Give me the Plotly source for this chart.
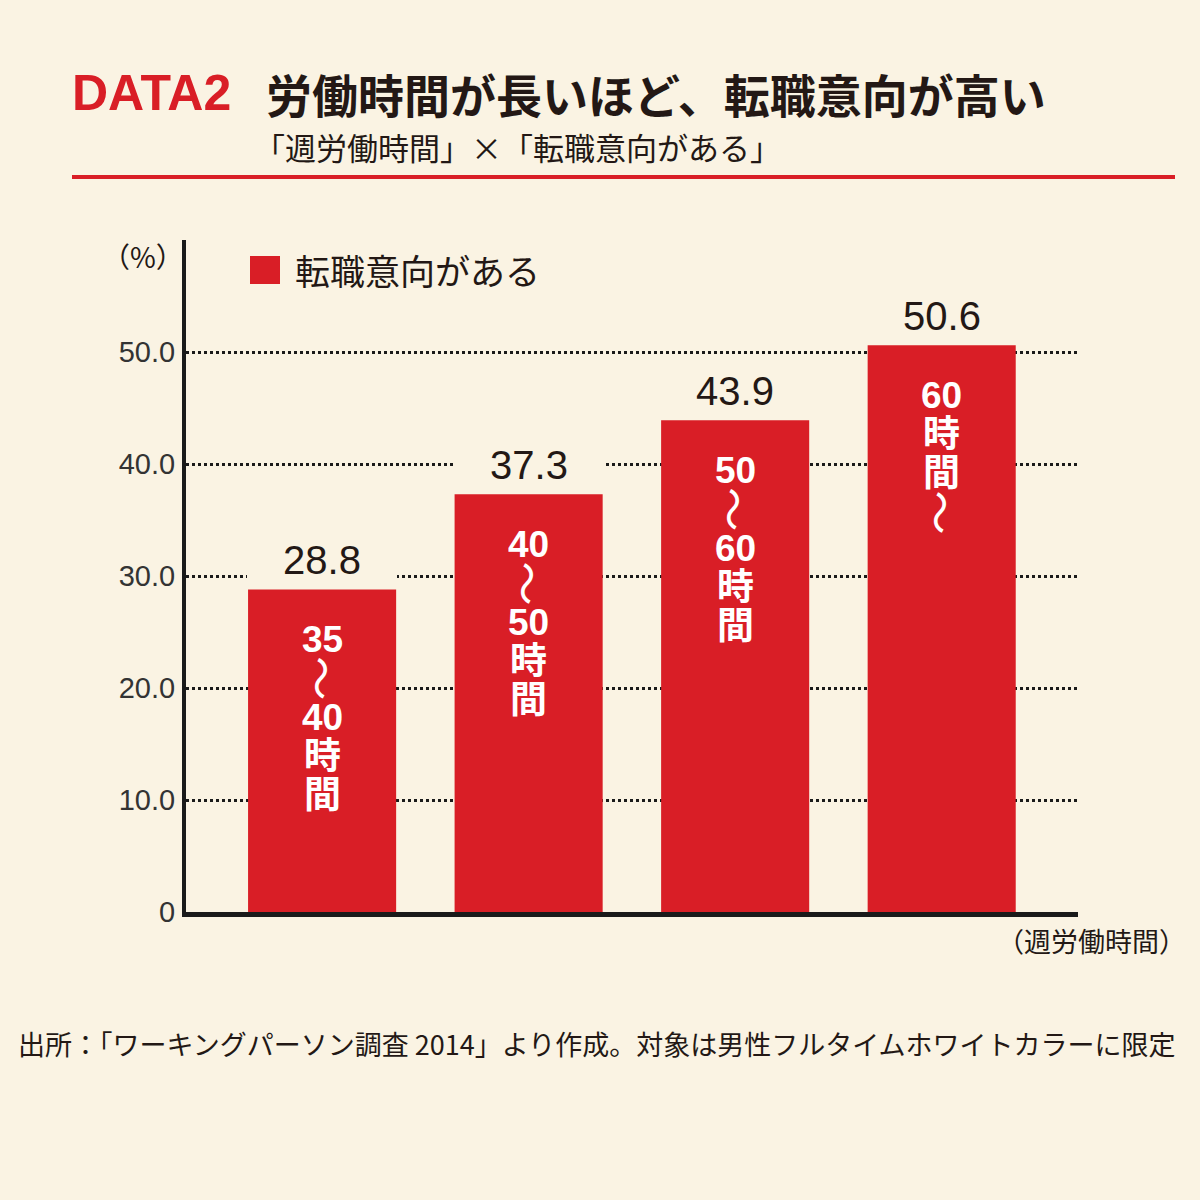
import plotly.graph_objects as go

# data
categories = ["35~40時間", "40~50時間", "50~60時間", "60時間~"]
values = [28.8, 37.3, 43.9, 50.6]
bar_text = [
    ["35", "〜", "40", "時", "間"],
    ["40", "〜", "50", "時", "間"],
    ["50", "〜", "60", "時", "間"],
    ["60", "時", "間", "〜"],
]
y_ticks = [0, 10, 20, 30, 40, 50]
y_ticktext = ["0", "10.0", "20.0", "30.0", "40.0", "50.0"]

title_tag = "DATA2"
title_main = "労働時間が長いほど、転職意向が高い"
subtitle = "「週労働時間」×「転職意向がある」"
legend_name = "転職意向がある"
x_unit = "（週労働時間）"
y_unit = "（%）"
source = "出所：「ワーキングパーソン調査 2014」より作成。対象は男性フルタイムホワイトカラーに限定"

RED = "#D91E26"
BG = "#FAF3E3"
INK = "#231815"
JP = "Noto Sans CJK JP"
NUM = "Liberation Sans, Noto Sans CJK JP"

# plot area in pixels
L, R, T, B = 186, 1078, 240, 912


def px(x):
    return (x - L) / (R - L)


def py(y):
    return (B - y) / (B - T)


fig = go.Figure()
fig.add_trace(go.Bar(x=categories, y=values, marker=dict(color=RED, line=dict(width=0)),
                     width=0.717, showlegend=False, hoverinfo="skip"))

# value labels above bars (background box hides gridlines like the original)
for c, v in zip(categories, values):
    fig.add_annotation(x=c, y=v, text=f"{v:.1f}", showarrow=False, yanchor="bottom",
                       width=150, height=58, bgcolor=BG, borderpad=0, borderwidth=0,
                       font=dict(family=NUM, size=40, color=INK))

# white labels inside bars, one line at a time (wave dash turned upright)
for c, v, lines in zip(categories, values, bar_text):
    for i, s in enumerate(lines):
        wave = s == "〜"
        fig.add_annotation(x=c, y=v, text=s if wave else f"<b>{s}</b>", showarrow=False,
                           yanchor="middle", yshift=-(50 + i * 39), height=38, borderpad=0,
                           textangle=90 if wave else 0,
                           font=dict(family=JP if wave else NUM, size=44 if wave else 37,
                                     color="white"))

# titles
fig.add_annotation(xref="paper", yref="paper", x=px(70), y=py(93), xanchor="left", yanchor="middle",
                   text=f"<b>{title_tag}</b>", showarrow=False,
                   font=dict(family=NUM, size=50, color=RED))
fig.add_annotation(xref="paper", yref="paper", x=px(264), y=py(93), xanchor="left", yanchor="middle",
                   text=f"<b>{title_main}</b>", showarrow=False,
                   font=dict(family=JP, size=46, color=INK))
fig.add_annotation(xref="paper", yref="paper", x=px(252), y=py(147), xanchor="left", yanchor="middle",
                   text=subtitle, showarrow=False,
                   font=dict(family=JP, size=31, color=INK))
fig.add_shape(type="line", xref="paper", yref="paper", x0=px(72), x1=px(1175), y0=py(177), y1=py(177),
              line=dict(color=RED, width=4))

# legend
fig.add_shape(type="rect", xref="paper", yref="paper", x0=px(250), x1=px(280), y0=py(284), y1=py(256),
              fillcolor=RED, line=dict(width=0))
fig.add_annotation(xref="paper", yref="paper", x=px(293), y=py(270), xanchor="left", yanchor="middle",
                   text=legend_name, showarrow=False,
                   font=dict(family=JP, size=35, color=INK))

# axis units and source
fig.add_annotation(xref="paper", yref="paper", x=px(186), y=py(256), xanchor="right", yanchor="middle",
                   text=y_unit, showarrow=False, font=dict(family=JP, size=28, color=INK))
fig.add_annotation(xref="paper", yref="paper", x=px(1188), y=py(940), xanchor="right", yanchor="middle",
                   text=x_unit, showarrow=False, font=dict(family=JP, size=27, color=INK))
fig.add_annotation(xref="paper", yref="paper", x=px(16), y=py(1043), xanchor="left", yanchor="middle",
                   text=source, showarrow=False, font=dict(family=JP, size=27, color=INK))

fig.update_layout(
    width=1200, height=1200,
    margin=dict(l=L, r=1200 - R, t=T, b=1200 - B),
    paper_bgcolor=BG, plot_bgcolor=BG,
)
fig.update_xaxes(type="category", range=[-0.659, 3.66], showticklabels=False, showgrid=False,
                 showline=True, linecolor="#1a1a1a", linewidth=5, ticks="", zeroline=False)
fig.update_yaxes(range=[0, 60], tickvals=y_ticks, ticktext=y_ticktext, showline=True,
                 linecolor="#1a1a1a", linewidth=4, ticks="", zeroline=False,
                 showgrid=True, gridcolor="#1a1a1a", gridwidth=2.5, griddash="dot",
                 tickfont=dict(family=NUM, size=29, color="#333333"), ticklabelstandoff=1)

# drop the default page margin so the figure sits at the window's corner
fig.write_html("out.html", config={"displayModeBar": False},
               post_script="document.body.style.margin='0';")
